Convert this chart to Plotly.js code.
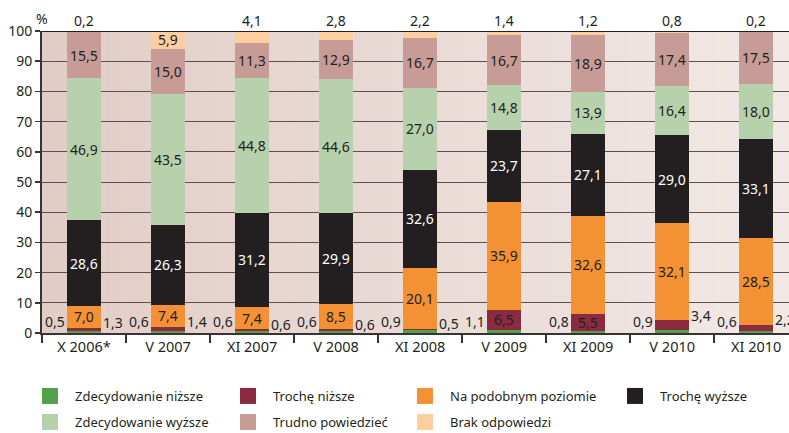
<!DOCTYPE html>
<html>
<head>
<meta charset="utf-8">
<script src="https://cdn.plot.ly/plotly-3.0.1.min.js"></script>
<style>html,body{margin:0;padding:0;background:#fff;}#chart{width:789px;height:433px;}</style>
</head>
<body>
<div id="chart"></div>
<script>
// ---- data ----
const categories = ['X 2006*','V 2007','XI 2007','V 2008','XI 2008','V 2009','XI 2009','V 2010','XI 2010'];
const zdecydowanieNizsze = [0.5,0.6,0.6,0.6,0.9,1.1,0.8,0.9,0.6];
const trocheNizsze      = [1.3,1.4,0.6,0.6,0.5,6.5,5.5,3.4,2.2];
const naPodobnym        = [7.0,7.4,7.4,8.5,20.1,35.9,32.6,32.1,28.5];
const trocheWyzsze      = [28.6,26.3,31.2,29.9,32.6,23.7,27.1,29.0,33.1];
const zdecydowanieWyzsze= [46.9,43.5,44.8,44.6,27.0,14.8,13.9,16.4,18.0];
const trudnoPowiedziec  = [15.5,15.0,11.3,12.9,16.7,16.7,18.9,17.4,17.5];
const brakOdpowiedzi    = [0.2,5.9,4.1,2.8,2.2,1.4,1.2,0.8,0.2];
const seriesNames = ['Zdecydowanie niższe','Trochę niższe','Na podobnym poziomie','Trochę wyższe','Zdecydowanie wyższe','Trudno powiedzieć','Brak odpowiedzi'];
const yTicks = [0,10,20,30,40,50,60,70,80,90,100];

// ---- styling ----
const series = [zdecydowanieNizsze,trocheNizsze,naPodobnym,trocheWyzsze,zdecydowanieWyzsze,trudnoPowiedziec,brakOdpowiedzi];
const colors = ['#55a04a','#8b2b40','#f49134','#231f20','#b8d1ad','#c79c96','#fccea0'];
// legend grid placement (pixels in the page): column left edge, row centre
const legendCol = [25, 223, 400, 610, 25, 223, 400];
const legendRow = [396, 396, 396, 396, 422, 422, 422];
const FONT = 'Noto Sans, Liberation Sans, sans-serif';
const DARK = '#231f20';
const fmt = v => v.toFixed(1).replace('.', ',');
const legendId = k => (k === 0 ? 'legend' : 'legend' + (k + 1));

const traces = series.map((vals, k) => ({
  type: 'bar', x: categories, y: vals, name: seriesNames[k],
  marker: {color: colors[k], line: {width: 0}},
  width: 0.4, showlegend: false, legendgroup: 'g' + k,
  hoverinfo: 'skip'
}));
// legend entries (square swatches, no plotted points)
series.forEach((vals, k) => {
  traces.push({type: 'scatter', mode: 'markers', x: [null], y: [null], name: seriesNames[k],
    marker: {symbol: 'square', size: 17, color: colors[k], line: {width: 0}},
    legend: legendId(k), legendgroup: 'g' + k, hoverinfo: 'skip'});
});

// ---- annotations derived from data ----
const annotations = [];
categories.forEach((cat, i) => {
  let base = 0;
  series.forEach((vals, k) => {
    const v = vals[i];
    const top = base + v;
    const a = {x: cat, xref: 'x', yref: 'y', text: fmt(v), showarrow: false,
      font: {family: FONT, size: 14, color: k === 3 ? '#ffffff' : DARK}};
    if (k === 0) {
      Object.assign(a, {y: 0, yanchor: 'bottom', xanchor: 'right', xshift: -17, yshift: 0});
    } else if (k === 1 && v < 5) {
      Object.assign(a, {y: top, yanchor: 'middle', xanchor: 'left', xshift: 17, yshift: 5});
    } else if (k === 6 && v < 5) {
      Object.assign(a, {y: 100, yanchor: 'bottom', xanchor: 'center', yshift: -1});
    } else {
      Object.assign(a, {y: base + v / 2, yanchor: 'middle', xanchor: 'center'});
    }
    annotations.push(a);
    base = top;
  });
});
annotations.push({xref: 'paper', yref: 'paper', x: 0, y: 1, yshift: 13, xanchor: 'center', yanchor: 'middle',
  text: '%', showarrow: false, font: {family: FONT, size: 14, color: DARK}});

// ---- background gradient ----
const shapes = [];
const N = 60;
const c0 = [226,205,198], c1 = [241,232,229];
for (let s = 0; s < N; s++) {
  const t = s / (N - 1);
  const c = c0.map((v, j) => Math.round(v + (c1[j] - v) * t));
  shapes.push({type: 'rect', xref: 'paper', yref: 'paper', x0: s / N, x1: (s + 1.05) / N, y0: 0, y1: 1,
    fillcolor: `rgb(${c.join(',')})`, line: {width: 0}, layer: 'below'});
}
shapes.push({type: 'line', xref: 'paper', yref: 'y', x0: 0, x1: 1, y0: 100, y1: 100,
  line: {color: DARK, width: 2}, layer: 'above'});

const layout = {
  width: 789, height: 433,
  margin: {l: 42, r: 0, t: 31, b: 100, pad: 0, autoexpand: false},
  paper_bgcolor: '#ffffff', plot_bgcolor: 'rgba(0,0,0,0)',
  barmode: 'stack', showlegend: true,
  font: {family: FONT, size: 14, color: DARK},
  xaxis: {type: 'category', range: [-0.5, 8.39], tickson: 'boundaries', ticks: 'outside', ticklen: 8,
    tickwidth: 1.5, tickcolor: '#3a3333', showline: true, linecolor: '#3a3333', linewidth: 2,
    showgrid: false, tickangle: 0, automargin: false, tickfont: {family: FONT, size: 14.5, color: DARK}, fixedrange: true},
  yaxis: {range: [0, 100], tickvals: yTicks, ticktext: yTicks.map(String), ticks: 'outside', ticklen: 5,
    tickwidth: 1.5, tickcolor: '#3a3333', showline: true, linecolor: '#3a3333', linewidth: 2,
    showgrid: true, gridcolor: '#5c504e', gridwidth: 1, zeroline: false, automargin: false,
    tickfont: {family: FONT, size: 14, color: DARK}, fixedrange: true},
  annotations: annotations,
  shapes: shapes
};
series.forEach((vals, k) => {
  layout[legendId(k)] = {orientation: 'v', xref: 'container', yref: 'container',
    x: legendCol[k] / 789, y: 1 - legendRow[k] / 433, xanchor: 'left', yanchor: 'middle',
    itemwidth: 40, itemsizing: 'trace', bgcolor: 'rgba(0,0,0,0)',
    font: {family: FONT, size: 13, color: DARK}, itemclick: false, itemdoubleclick: false};
});

Plotly.newPlot('chart', traces, layout, {displayModeBar: false, staticPlot: true});
</script>
</body>
</html>
